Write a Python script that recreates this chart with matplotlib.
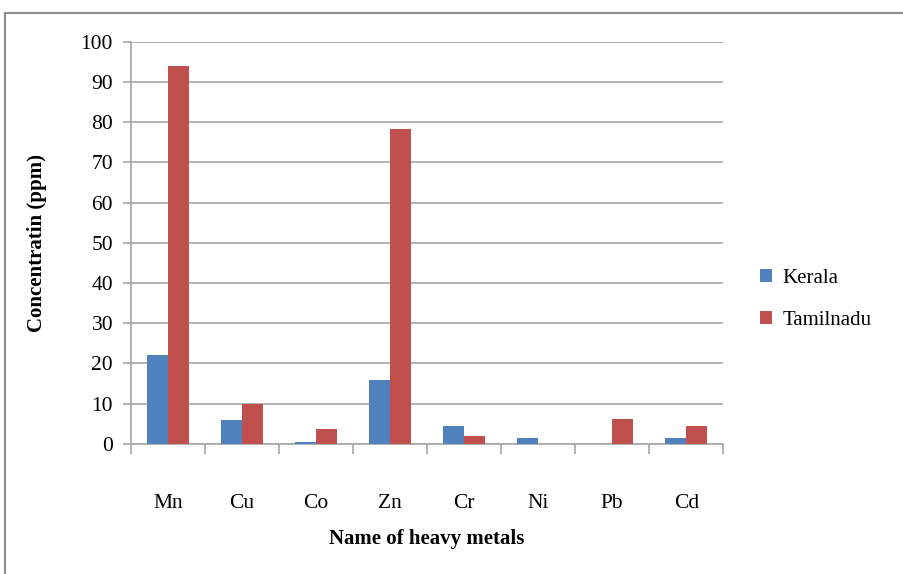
import matplotlib.pyplot as plt
from matplotlib.patches import Rectangle
import numpy as np

metals = ['Mn', 'Cu', 'Co', 'Zn', 'Cr', 'Ni', 'Pb', 'Cd']
kerala = [22, 5.9, 0.5, 15.8, 4.5, 1.4, 0, 1.4]
tamilnadu = [94, 10, 3.6, 78.2, 2.0, 0, 6.2, 4.3]

plt.rcParams['font.family'] = 'Liberation Serif'

fig = plt.figure(figsize=(9.04, 5.74), dpi=100)
ax = fig.add_axes([0.145, 0.227, 0.655, 0.700])

x = np.arange(len(metals))
w = 0.28
ax.bar(x - w / 2, kerala, w, color='#4F81BD', label='Kerala', zorder=3)
ax.bar(x + w / 2, tamilnadu, w, color='#C0504D', label='Tamilnadu', zorder=3)

ax.set_xlim(-0.5, len(metals) - 0.5)
ax.set_ylim(0, 100)
ax.set_yticks(range(0, 101, 10))
ax.yaxis.grid(True, color='#A6A6A6', linewidth=1.2, zorder=0)

# category labels sit well below the axis, tick marks go between categories
ax.set_xticks(x)
ax.set_xticklabels(metals, fontsize=15.5)
ax.tick_params(axis='x', which='major', length=0, pad=36)
ax.set_xticks(np.arange(-0.5, len(metals)), minor=True)
ax.tick_params(axis='x', which='minor', length=7, color='#A6A6A6', width=1.2)
ax.tick_params(axis='y', length=6, color='#A6A6A6', width=1.2, labelsize=15.5, pad=7)

for side in ['top', 'right']:
    ax.spines[side].set_visible(False)
for side in ['left', 'bottom']:
    ax.spines[side].set_color('#A6A6A6')
    ax.spines[side].set_linewidth(1.2)

ax.set_ylabel('Concentratin (ppm)', fontsize=15, fontweight='bold', labelpad=24)
ax.set_xlabel('Name of heavy metals', fontsize=15, fontweight='bold', labelpad=12)

ax.legend(loc='center left', bbox_to_anchor=(1.03, 0.36), frameon=False,
          fontsize=15, handlelength=0.6, handleheight=0.6, labelspacing=1.1,
          handletextpad=0.5)

fig.patches.append(Rectangle((0.005, -0.01), 1.0, 0.988, transform=fig.transFigure,
                             fill=False, edgecolor='#8C8C8C', linewidth=1.5))

plt.savefig('out.png', dpi=100)
